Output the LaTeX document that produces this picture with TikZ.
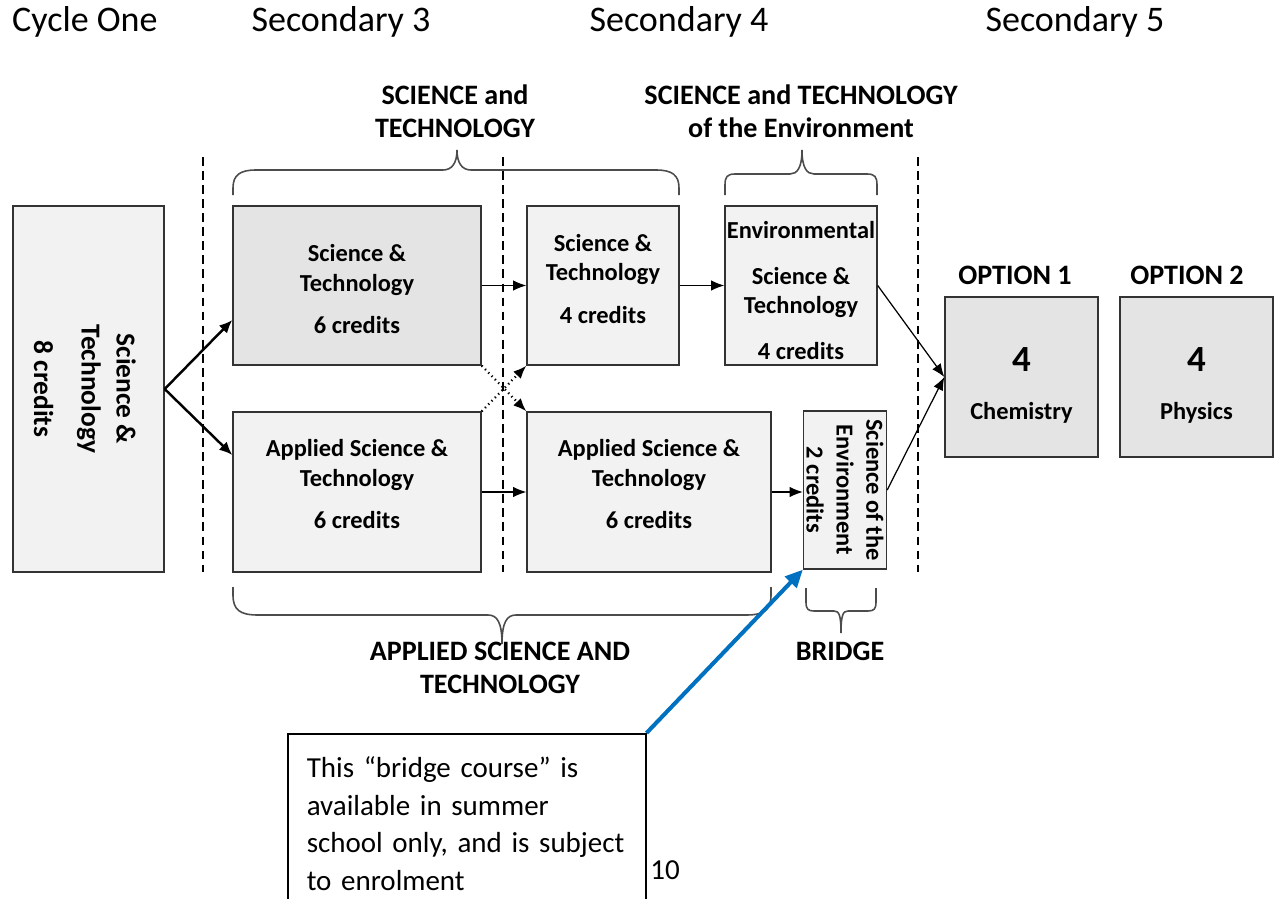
\documentclass[tikz,border=0pt]{standalone}
\usepackage{fontspec}
\setmainfont{Carlito}
\usetikzlibrary{arrows.meta,calc}
\definecolor{boxdark}{HTML}{E4E4E4}
\definecolor{boxlight}{HTML}{F2F2F2}
\definecolor{calloutblue}{HTML}{0070C0}
% struts that move a box text down (taller first line) or up (deeper last line)
\newcommand\dropby[1]{\rule{0pt}{#1}}
\newcommand\liftby[1]{\rule[-#1]{0pt}{#1}}

\begin{document}
\begin{tikzpicture}[x=0.02cm,y=-0.02cm,
    course/.style={draw=black!80,line width=0.8pt,fill=boxlight,align=center,inner sep=0pt,
        font=\fontsize{13.9}{17}\selectfont\bfseries},
    yearhead/.style={font=\fontsize{20.5}{24}\selectfont},
    bracelabel/.style={align=center,font=\fontsize{16}{19}\selectfont\bfseries},
    flow/.style={-{Latex[length=7.5pt,width=6pt]},line width=0.7pt},
    brc/.style={draw=black!70,line width=0.9pt},
    yearline/.style={dash pattern=on 5pt off 3pt,line width=0.7pt}]

\useasboundingbox (0,0) rectangle (1275,899);

% year headings
\node[yearhead,anchor=west] (cyc1) at (6,22) {Cycle One};
\node[yearhead] (sec3) at (341,22) {Secondary 3};
\node[yearhead] (sec4) at (679,22) {Secondary 4};
\node[yearhead] (sec5) at (1075,22) {Secondary 5};

% separators between the years
\draw[yearline] (203,157) -- (203,572);
\draw[yearline] (503,157) -- (503,572);
\draw[yearline] (918,157) -- (918,572);

% courses
\node[course,rotate=-90,minimum width=7.32cm,minimum height=3.02cm,
    font=\fontsize{15.6}{20}\selectfont\bfseries] (stL) at (88.5,389) {\dropby{15pt}Science \&\\Technology\\[7pt]8 credits};
\node[course,fill=boxdark,minimum width=4.96cm,minimum height=3.18cm] (stA) at (357,285.5) {\dropby{14pt}Science \&\\Technology\\[7pt]6 credits};
\node[course,minimum width=4.96cm,minimum height=3.2cm] (astB) at (357,492) {Applied Science \&\\Technology\\[7pt]6 credits\liftby{9pt}};
\node[course,minimum width=3.04cm,minimum height=3.18cm] (stC) at (603,285.5) {Science \&\\Technology\\[7pt]4 credits\liftby{8pt}};
\node[course,minimum width=4.88cm,minimum height=3.2cm] (astD) at (649,492) {Applied Science \&\\Technology\\[7pt]6 credits\liftby{9pt}};
\node[course,minimum width=3.04cm,minimum height=3.18cm] (stE) at (801,285.5) {\dropby{15.5pt}Environmental\\[9pt]Science \&\\Technology\\[9pt]4 credits};
\node[course,rotate=-90,minimum width=3.16cm,minimum height=1.66cm] (seF) at (845,490) {Science of the\\Environment\\2 credits};

% secondary 5 options
\node[course,fill=boxdark,minimum width=3.06cm,minimum height=3.2cm] (chem) at (1021.5,377) {{\fontsize{21}{24}\selectfont\dropby{23pt}4}\\[10pt]Chemistry};
\node[course,fill=boxdark,minimum width=3.06cm,minimum height=3.2cm] (phys) at (1196.5,377) {{\fontsize{21}{24}\selectfont\dropby{23pt}4}\\[10pt]Physics};
\node[bracelabel] (opt1) at (1015,275) {OPTION 1};
\node[bracelabel] (opt2) at (1187,275) {OPTION 2};

% paths
\draw[line width=1.4pt,-{Latex[length=7.5pt,width=6.5pt]}] (stL.north) -- ([yshift=-0.69cm]stA.west);
\draw[line width=1.4pt,-{Latex[length=7.5pt,width=6.5pt]}] (stL.north) -- ([yshift=0.74cm]astB.west);
\draw[flow] (stA.east) -- (stC.west);
\draw[flow] (astB.east) -- (astD.west);
\draw[flow] (stC.east) -- (stE.west);
\draw[flow] (astD.east) -- (astD.east -| seF.south);
\draw[flow] (stE.east) -- (chem.west);
\draw[flow] (seF.north) -- (chem.west);
\draw[flow,dotted,line width=1.3pt] (stA.south east) -- (astD.north west);
\draw[flow,dotted,line width=1.3pt] (astB.north east) -- (stC.south west);

% braces
\draw[brc] (233,195) -- (233,188) .. controls (233,175) and (240,170) .. (256,170) -- (443,170)
    .. controls (452,170) and (457,163) .. (457,150) .. controls (457,163) and (462,170) .. (471,170)
    -- (656,170) .. controls (672,170) and (679,175) .. (679,188) -- (679,195);
\draw[brc] (725,195) -- (725,185) .. controls (725,177) and (727,174) .. (735,174) -- (790,174)
    .. controls (797,174) and (802,168) .. (802,150) .. controls (802,168) and (807,174) .. (814,174)
    -- (867,174) .. controls (875,174) and (877,177) .. (877,185) -- (877,195);
\draw[brc] (233,587) -- (233,595) .. controls (233,610) and (240,615) .. (258,615) -- (488,615)
    .. controls (497,615) and (502,622) .. (502,644) .. controls (502,622) and (507,615) .. (516,615)
    -- (746,615) .. controls (764,615) and (771,610) .. (771,595) -- (771,587);
\draw[brc] (806,588) -- (806,602) .. controls (806,609) and (808,611) .. (814,611) -- (834,611)
    .. controls (839,611) and (841,615) .. (841,633) .. controls (841,615) and (843,611) .. (848,611)
    -- (868,611) .. controls (874,611) and (876,609) .. (876,602) -- (876,588);
\node[bracelabel] (stlab) at (455,111) {SCIENCE and\\TECHNOLOGY};
\node[bracelabel] (stelab) at (801,111) {SCIENCE and TECHNOLOGY\\of the Environment};
\node[bracelabel] (astlab) at (500,668) {APPLIED SCIENCE AND\\TECHNOLOGY};
\node[bracelabel] (bridgelab) at (840,651) {BRIDGE};

% note on the bridge course
\node[draw,line width=0.9pt,anchor=north west,text width=6.4cm,inner xsep=0.38cm,
    minimum height=3.6cm,align=left,font=\fontsize{16.5}{21.3}\selectfont] (note) at (287,733)
    {This “bridge course” is\\available in summer\\school only, and is subject\\to enrolment};
\node[font=\fontsize{16.5}{20}\selectfont] (pgnum) at (665,870) {10};
\draw[calloutblue,line width=2.3pt,-{Triangle[length=10pt,width=9pt]}] (note.north east) -- (seF.south east);

\end{tikzpicture}
\end{document}
